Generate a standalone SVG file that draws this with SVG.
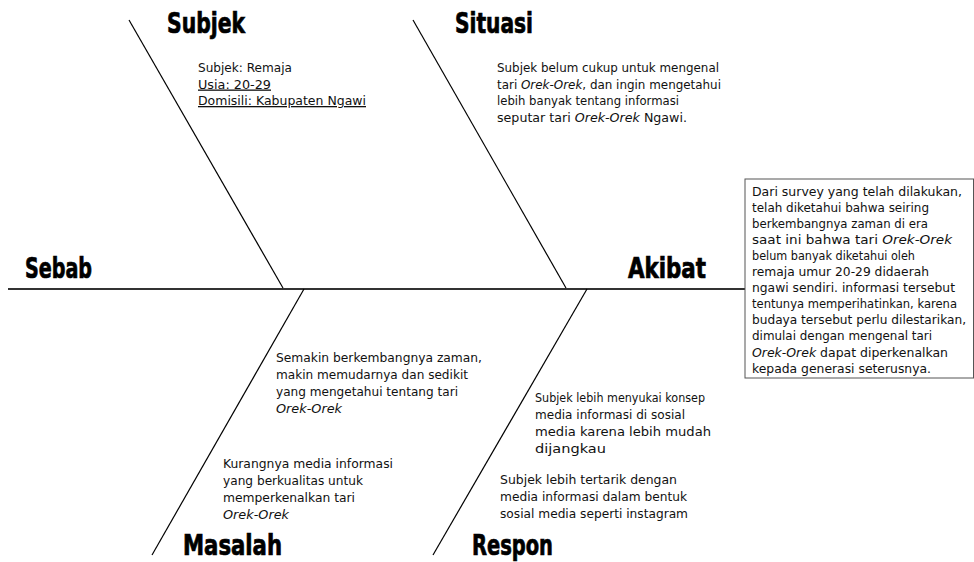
<svg xmlns="http://www.w3.org/2000/svg" width="974" height="562" viewBox="0 0 974 562">
<style>
.h{font-family:"Liberation Sans Narrow","DejaVu Sans Condensed","Liberation Sans",sans-serif;font-weight:bold;font-size:28px;fill:#000;stroke:#000;stroke-width:0.7}
.t{font-family:"DejaVu Sans","Liberation Sans",sans-serif;font-size:13px;fill:#111}
.b{font-family:"DejaVu Sans Condensed","DejaVu Sans","Liberation Sans",sans-serif;font-size:12.5px;fill:#111}
.i{font-style:italic}
.u{text-decoration:underline}
.bone{stroke:#000;stroke-width:1.2;fill:none}
.spine{stroke:#333;stroke-width:2;fill:none}
</style>
<rect width="974" height="562" fill="#fff"/>
<g id="connectors">
<line class="spine" x1="8" y1="289" x2="745" y2="289"/>
<line class="bone" x1="129" y1="20" x2="283" y2="288"/>
<line class="bone" x1="413" y1="20" x2="566" y2="288"/>
<line class="bone" x1="304" y1="289" x2="152" y2="555"/>
<line class="bone" x1="587" y1="289" x2="433" y2="555"/>
</g>
<g id="sebab"><text class="h" x="25" y="278" textLength="67" lengthAdjust="spacingAndGlyphs">Sebab</text></g>
<g id="subjek">
<text class="h" x="167" y="33" textLength="78" lengthAdjust="spacingAndGlyphs">Subjek</text>
<text class="t" x="198" y="72" textLength="94" lengthAdjust="spacingAndGlyphs">Subjek: Remaja</text>
<text class="t u" x="198" y="88.5" textLength="73" lengthAdjust="spacingAndGlyphs">Usia: 20-29</text>
<text class="t u" x="198" y="105" textLength="168" lengthAdjust="spacingAndGlyphs">Domisili: Kabupaten Ngawi</text>
</g>
<g id="situasi">
<text class="h" x="455" y="33" textLength="78" lengthAdjust="spacingAndGlyphs">Situasi</text>
<text class="t" x="497" y="72" textLength="222" lengthAdjust="spacingAndGlyphs">Subjek belum cukup untuk mengenal</text>
<text class="t" x="497" y="88.5" textLength="224" lengthAdjust="spacingAndGlyphs">tari <tspan class="i">Orek-Orek</tspan>, dan ingin mengetahui</text>
<text class="t" x="497" y="105" textLength="182" lengthAdjust="spacingAndGlyphs">lebih banyak tentang informasi</text>
<text class="t" x="497" y="121.5" textLength="190" lengthAdjust="spacingAndGlyphs">seputar tari <tspan class="i">Orek-Orek</tspan> Ngawi.</text>
</g>
<g id="akibat">
<text class="h" x="628" y="278" textLength="78" lengthAdjust="spacingAndGlyphs">Akibat</text>
<rect x="745" y="179" width="228.5" height="199" fill="#fff" stroke="#555" stroke-width="1"/>
<text class="b" x="752" y="195.5" textLength="210" lengthAdjust="spacingAndGlyphs">Dari survey yang telah dilakukan,</text>
<text class="b" x="752" y="211.6" textLength="177" lengthAdjust="spacingAndGlyphs">telah diketahui bahwa seiring</text>
<text class="b" x="752" y="227.7" textLength="176" lengthAdjust="spacingAndGlyphs">berkembangnya zaman di era</text>
<text class="b" x="752" y="243.8" textLength="200" lengthAdjust="spacingAndGlyphs">saat ini bahwa tari <tspan class="i">Orek-Orek</tspan></text>
<text class="b" x="752" y="259.9" textLength="163" lengthAdjust="spacingAndGlyphs">belum banyak diketahui oleh</text>
<text class="b" x="752" y="276" textLength="177" lengthAdjust="spacingAndGlyphs">remaja umur 20-29 didaerah</text>
<text class="b" x="752" y="292.1" textLength="203" lengthAdjust="spacingAndGlyphs">ngawi sendiri. informasi tersebut</text>
<text class="b" x="752" y="308.2" textLength="205" lengthAdjust="spacingAndGlyphs">tentunya memperihatinkan, karena</text>
<text class="b" x="752" y="324.3" textLength="214" lengthAdjust="spacingAndGlyphs">budaya tersebut perlu dilestarikan,</text>
<text class="b" x="752" y="340.4" textLength="180" lengthAdjust="spacingAndGlyphs">dimulai dengan mengenal tari</text>
<text class="b" x="752" y="356.5" textLength="196" lengthAdjust="spacingAndGlyphs"><tspan class="i">Orek-Orek</tspan> dapat diperkenalkan</text>
<text class="b" x="752" y="372.6" textLength="179" lengthAdjust="spacingAndGlyphs">kepada generasi seterusnya.</text>
</g>
<g id="masalah">
<text class="h" x="183" y="555" textLength="99" lengthAdjust="spacingAndGlyphs">Masalah</text>
<text class="t" x="276" y="362" textLength="206" lengthAdjust="spacingAndGlyphs">Semakin berkembangnya zaman,</text>
<text class="t" x="276" y="379" textLength="192" lengthAdjust="spacingAndGlyphs">makin memudarnya dan sedikit</text>
<text class="t" x="276" y="396" textLength="182" lengthAdjust="spacingAndGlyphs">yang mengetahui tentang tari</text>
<text class="t i" x="276" y="413" textLength="66" lengthAdjust="spacingAndGlyphs">Orek-Orek</text>
<text class="t" x="223" y="467.5" textLength="170" lengthAdjust="spacingAndGlyphs">Kurangnya media informasi</text>
<text class="t" x="223" y="484.5" textLength="140" lengthAdjust="spacingAndGlyphs">yang berkualitas untuk</text>
<text class="t" x="223" y="501.5" textLength="132" lengthAdjust="spacingAndGlyphs">memperkenalkan tari</text>
<text class="t i" x="223" y="518.5" textLength="66" lengthAdjust="spacingAndGlyphs">Orek-Orek</text>
</g>
<g id="respon">
<text class="h" x="472" y="555" textLength="81" lengthAdjust="spacingAndGlyphs">Respon</text>
<text class="t" x="535" y="402" textLength="170" lengthAdjust="spacingAndGlyphs">Subjek lebih menyukai konsep</text>
<text class="t" x="535" y="419" textLength="150" lengthAdjust="spacingAndGlyphs">media informasi di sosial</text>
<text class="t" x="535" y="436" textLength="176" lengthAdjust="spacingAndGlyphs">media karena lebih mudah</text>
<text class="t" x="535" y="453" textLength="71" lengthAdjust="spacingAndGlyphs">dijangkau</text>
<text class="t" x="500" y="484" textLength="177" lengthAdjust="spacingAndGlyphs">Subjek lebih tertarik dengan</text>
<text class="t" x="500" y="501" textLength="187" lengthAdjust="spacingAndGlyphs">media informasi dalam bentuk</text>
<text class="t" x="500" y="518" textLength="188" lengthAdjust="spacingAndGlyphs">sosial media seperti instagram</text>
</g>
</svg>
